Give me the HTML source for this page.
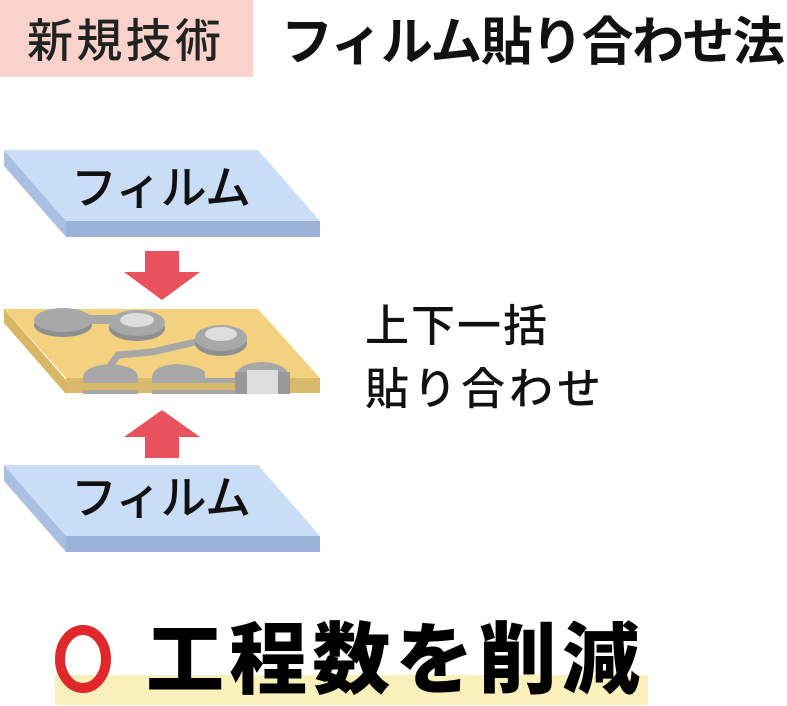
<!DOCTYPE html>
<html><head><meta charset="utf-8"><style>
html,body{margin:0;padding:0;background:#fff;width:787px;height:706px;overflow:hidden}
svg{display:block}
text{font-family:"Liberation Sans","Noto Sans CJK JP",sans-serif}
</style></head><body>
<svg width="787" height="706" viewBox="0 0 787 706" xmlns="http://www.w3.org/2000/svg">
<rect x="0" y="0" width="253" height="77" fill="#f9d3cb"/>
<text x="27" y="57" font-size="46" font-weight="500" textLength="194" lengthAdjust="spacing" fill="#222">新規技術</text>
<text x="281" y="60" font-size="52" font-weight="700" textLength="504" lengthAdjust="spacing" fill="#111">フィルム貼り合わせ法</text>

<polygon points="4,150 4,166 66,237 66,221" fill="#a9c0e2"/>
<rect x="66" y="221" width="254" height="16" fill="#9bb3d6"/>
<polygon points="4,150 258,150 320,221 66,221" fill="#c9ddf7"/>
<text x="71" y="204" font-size="46" font-weight="500" textLength="180" lengthAdjust="spacing" fill="#111">フィルム</text>

<polygon points="145,251 179,251 179,272 200,272 162,300 124,272 145,272" fill="#e8525c"/>

<polygon points="4,309 4,323 66,394 66,380" fill="#d8b866"/>
<rect x="66" y="378" width="254" height="15" fill="#d9b96c"/>
<polygon points="4,309 258,309 320,378 66,378" fill="#f3d17f"/>
<ellipse cx="63" cy="325" rx="29" ry="12" fill="#8f8f8f"/>
<ellipse cx="63" cy="320" rx="29" ry="12" fill="#a8a8a8"/>
<rect x="88" y="315" width="26" height="9" fill="#a8a8a8"/>
<ellipse cx="137" cy="328" rx="28" ry="13" fill="#8f8f8f"/>
<ellipse cx="137" cy="323" rx="28" ry="13" fill="#a8a8a8"/>
<ellipse cx="137" cy="320" rx="17" ry="7" fill="#dcdddd"/>
<polyline points="200,341 152,352 118,355 110,366" fill="none" stroke="#a8a8a8" stroke-width="7"/>
<ellipse cx="221" cy="343" rx="26" ry="13" fill="#8f8f8f"/>
<ellipse cx="221" cy="338" rx="26" ry="13" fill="#a8a8a8"/>
<ellipse cx="221" cy="334" rx="16" ry="7" fill="#dcdddd"/>
<path d="M83,378 Q83,366 110,364 Q138,366 138,378 Z" fill="#a8a8a8"/>
<path d="M152,378 Q152,365 178,364 Q200,366 205,372 L205,378 Z" fill="#a8a8a8"/>
<path d="M235,378 Q236,363 262,362 Q288,363 290,378 Z" fill="#a8a8a8"/>
<rect x="83" y="378" width="55" height="5" fill="#a8a8a8"/>
<rect x="83" y="390" width="55" height="4" fill="#a8a8a8"/>
<rect x="152" y="378" width="83" height="5" fill="#a8a8a8"/>
<rect x="152" y="390" width="83" height="4" fill="#a8a8a8"/>
<rect x="235" y="372" width="55" height="22" fill="#999"/>
<rect x="247" y="370" width="31" height="24" fill="#dcdddd"/>

<text x="365" y="341" font-size="44" font-weight="500" textLength="182" lengthAdjust="spacing" fill="#111">上下一括</text>
<text x="365" y="404" font-size="44" font-weight="500" textLength="236" lengthAdjust="spacing" fill="#111">貼り合わせ</text>

<polygon points="162,410 200,437 179,437 179,458 145,458 145,437 124,437" fill="#e8525c"/>

<polygon points="4,465 4,481 66,552 66,536" fill="#a9c0e2"/>
<rect x="66" y="536" width="254" height="16" fill="#9bb3d6"/>
<polygon points="4,465 258,465 320,536 66,536" fill="#c9ddf7"/>
<text x="71" y="514" font-size="46" font-weight="500" textLength="180" lengthAdjust="spacing" fill="#111">フィルム</text>

<rect x="55" y="675" width="593" height="30" fill="#f9f0bc"/>
<ellipse cx="83" cy="659" rx="23" ry="29" fill="none" stroke="#e0282a" stroke-width="10"/>
<text x="146" y="687" font-size="78" font-weight="900" textLength="494" lengthAdjust="spacing" fill="#000">工程数を削減</text>
</svg>
</body></html>
